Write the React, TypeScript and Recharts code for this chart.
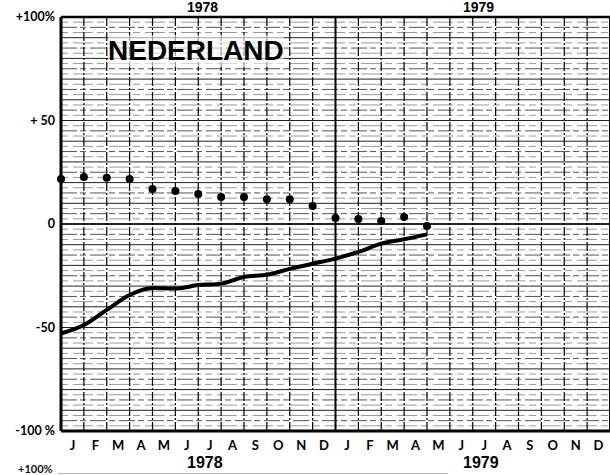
import { LineChart, Line, XAxis, YAxis, ReferenceLine } from 'recharts';

// month letters, two years (1978, 1979)
const MONTHS = ['J', 'F', 'M', 'A', 'M', 'J', 'J', 'A', 'S', 'O', 'N', 'D', 'J', 'F', 'M', 'A', 'M', 'J', 'J', 'A', 'S', 'O', 'N', 'D'];
const YEARS = ['1978', '1979'];

// month index (0 = Jan 1978) of each reading
const MONTH_INDEX = [0, 1, 2, 3, 4, 5, 6, 7, 8, 9, 10, 11, 12, 13, 14, 15, 16];
// dotted series
const DOT_VALUES = [21.7, 22.7, 22.4, 21.7, 16.9, 15.9, 14.5, 13, 13, 12, 12, 8.7, 2.9, 2.4, 1.4, 3.4, -1];
// solid series
const LINE_VALUES = [-52.9, -48.8, -41.5, -34.3, -30.9, -31.2, -29.5, -28.8, -25.6, -24.5, -21.7, -19.2, -16.7, -13.5, -9.5, -7.4, -5];

const Y_TICKS = [100, 50, 0, -50, -100];
const Y_LABELS: Record<number, string> = { 100: '+100%', 50: '+ 50', 0: '0', '-50': '-50', '-100': '-100 %' };

const data = MONTH_INDEX.map((m, i) => ({ m, dot: DOT_VALUES[i], line: LINE_VALUES[i] }));

const monthTicks = MONTHS.map((_, i) => i + 0.5);
const monthLines = Array.from({ length: MONTHS.length + 1 }, (_, i) => i);
const hLines = Array.from({ length: 81 }, (_, i) => -100 + i * 2.5);

const W = 610;
const H = 475;

export default function App() {
  return (
    <div style={{ position: 'absolute', left: 0, top: 0, width: W, height: H, background: '#fff', overflow: 'hidden', fontFamily: 'Lato, sans-serif' }}>
      <LineChart width={W} height={H} data={data} margin={{ top: 17, right: 0, bottom: 14, left: 0 }}>
        <XAxis
          dataKey="m"
          type="number"
          domain={[0, 24]}
          ticks={monthTicks}
          interval={0}
          height={30}
          tickFormatter={(v: number) => MONTHS[Math.floor(v)]}
          tickLine={false}
          tickMargin={4}
          axisLine={{ stroke: '#000', strokeWidth: 3 }}
          tick={{ fill: '#000', fontSize: 13, fontWeight: 700, fontFamily: 'Lato, sans-serif' }}
        />
        <YAxis
          type="number"
          domain={[-100, 100]}
          ticks={Y_TICKS}
          interval={0}
          width={61}
          tickFormatter={(v: number) => Y_LABELS[v]}
          tickLine={false}
          tickMargin={0}
          axisLine={{ stroke: '#000', strokeWidth: 3 }}
          tick={{ fill: '#000', fontSize: 12.5, fontWeight: 700, fontFamily: 'Lato, sans-serif' }}
        />
        {hLines.map((v, i) => (
          <ReferenceLine
            key={`h-${i}`}
            y={v}
            stroke={i % 4 === 0 ? '#222' : i % 2 === 0 ? '#555' : '#999'}
            strokeWidth={1}
            strokeDasharray={i % 4 === 0 ? undefined : i % 2 === 0 ? '16 3 6 4' : '7 5 20 4'}
          />
        ))}
        {monthLines.map((k) => (
          <ReferenceLine
            key={`v-${k}`}
            x={k}
            stroke="#000"
            strokeWidth={k % 12 === 0 ? 2 : 1.2}
            strokeDasharray={k % 12 === 0 ? undefined : '9 2 2 2'}
          />
        ))}
        <ReferenceLine y={100} stroke="#000" strokeWidth={2.5} />
        <ReferenceLine y={0} stroke="#000" strokeWidth={1.5} />
        <Line
          dataKey="line"
          type="monotone"
          stroke="#000"
          strokeWidth={4}
          dot={false}
          isAnimationActive={false}
        />
        <Line
          dataKey="dot"
          stroke="none"
          dot={{ r: 4, fill: '#000', stroke: '#000', strokeWidth: 0 }}
          isAnimationActive={false}
        />
      </LineChart>

      <div style={{ position: 'absolute', left: 108, top: 35, fontFamily: '"Liberation Sans", Arial, sans-serif', fontWeight: 700, fontSize: 28, lineHeight: '32px', color: '#000', background: 'rgba(255,255,255,0.6)' }}>
        NEDERLAND
      </div>

      {/* year captions, top and under the month letters */}
      {YEARS.map((y, i) => (
        <div key={`t-${y}`} style={{ position: 'absolute', left: i === 0 ? 187 : 463, top: 0, fontFamily: '"Liberation Sans", Arial, sans-serif', fontWeight: 700, fontSize: 14, lineHeight: '15px', color: '#000' }}>
          {y}
        </div>
      ))}
      {YEARS.map((y, i) => (
        <div key={`b-${y}`} style={{ position: 'absolute', left: i === 0 ? 187 : 463, top: 454, fontFamily: '"Liberation Sans", Arial, sans-serif', fontWeight: 700, fontSize: 16, lineHeight: '18px', color: '#000' }}>
          {y}
        </div>
      ))}

      {/* start of the next panel */}
      <div style={{ position: 'absolute', left: 18, top: 462, fontSize: 11, fontWeight: 700, lineHeight: '14px', color: '#111' }}>+100%</div>
      <div style={{ position: 'absolute', left: 58, top: 473, width: 390, height: 1, background: '#bbb' }} />
    </div>
  );
}
